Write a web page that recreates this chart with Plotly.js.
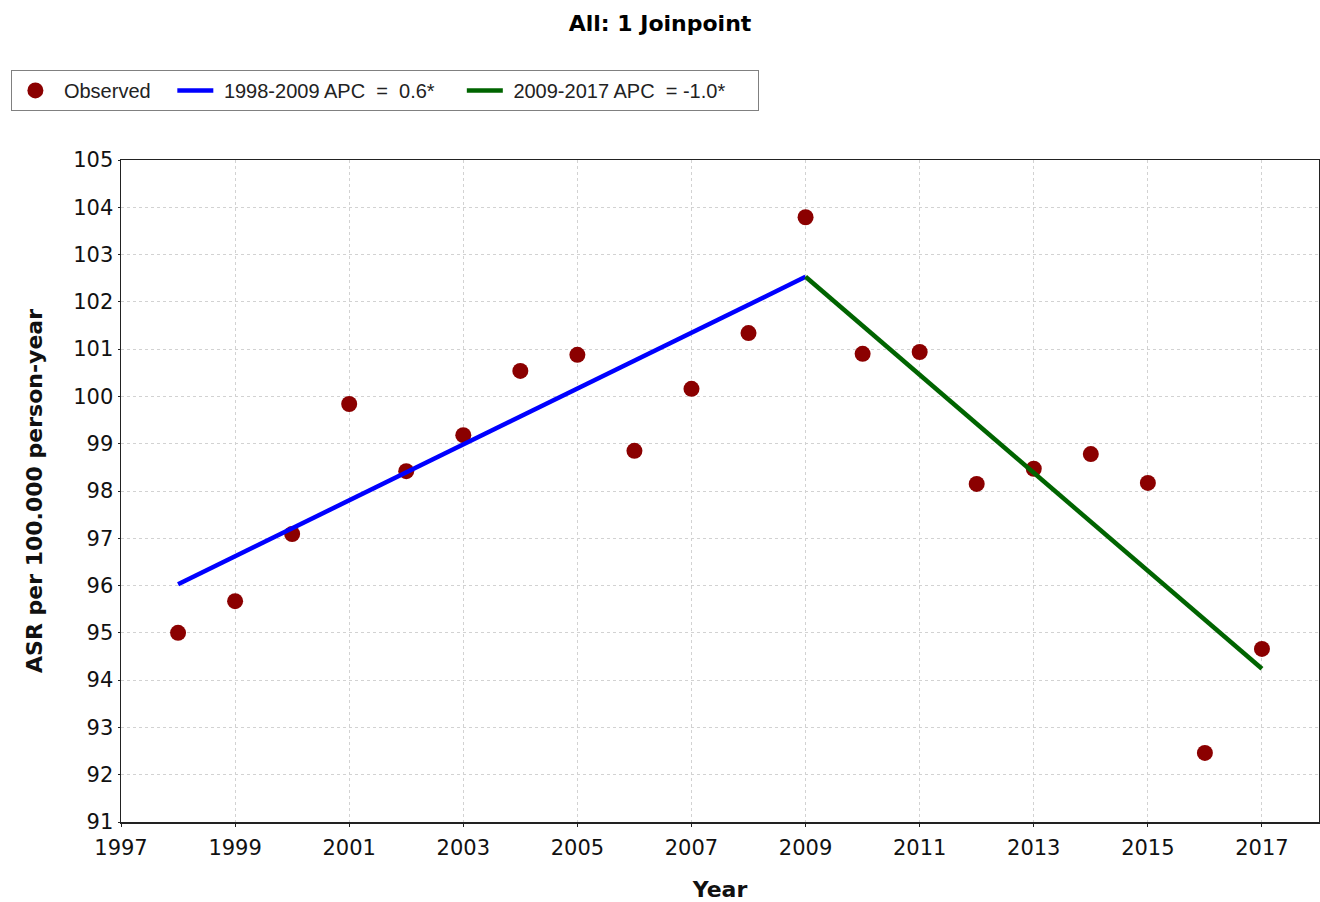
<!DOCTYPE html>
<html>
<head>
<meta charset="utf-8">
<script src="https://cdn.plot.ly/plotly-3.0.1.min.js"></script>
<style>html,body{margin:0;padding:0;background:#fff;}#chart{width:1320px;height:902px;}</style>
</head>
<body>
<div id="chart"></div>
<script>
const years = [1998,1999,2000,2001,2002,2003,2004,2005,2006,2007,2008,2009,2010,2011,2012,2013,2014,2015,2016,2017];
const observed = [95.00,95.67,97.09,99.84,98.42,99.18,100.54,100.88,98.85,100.16,101.34,103.79,100.90,100.94,98.15,98.47,98.78,98.17,92.46,94.66];
const seg1Years = [1998, 2009];
const seg1Fit = [96.03, 102.53];
const seg2Years = [2009, 2017];
const seg2Fit = [102.53, 94.24];
const names = ['Observed', '1998-2009 APC\u00a0\u00a0=\u00a0\u00a00.6*', '2009-2017 APC\u00a0\u00a0= -1.0*'];
const titleText = '<b>All: 1 Joinpoint</b>';
const xTitle = '<b>Year</b>';
const yTitle = '<b>ASR per 100.000 person-year</b>';

const NB = '\u00a0';
function pad(s, lead, trail) { return NB.repeat(lead) + s + NB.repeat(trail); }

const traces = [
  {x: years, y: observed, type: 'scatter', mode: 'markers', name: pad(names[0], 1, 3),
   marker: {color: '#8B0000', size: 16}},
  {x: seg1Years, y: seg1Fit, type: 'scatter', mode: 'lines', name: pad(names[1], 1, 4),
   line: {color: '#0000FF', width: 4.5}},
  {x: seg2Years, y: seg2Fit, type: 'scatter', mode: 'lines', name: pad(names[2], 1, 5),
   line: {color: '#006400', width: 4.5}}
];

const fam = 'DejaVu Sans, Verdana, sans-serif';
const axisFont = {family: fam, size: 21, color: '#111'};
const layout = {
  width: 1320, height: 902,
  paper_bgcolor: '#fff', plot_bgcolor: '#fff',
  margin: {l: 121, r: 1, t: 160, b: 80, pad: 0},
  title: {text: titleText, x: 0.5, xref: 'container', xanchor: 'center',
          y: 1 - 23/902, yref: 'container', yanchor: 'middle',
          font: {family: fam, size: 22, color: '#000'}},
  showlegend: true,
  legend: {orientation: 'h', x: -0.0915, xanchor: 'left', y: 1.136, yanchor: 'top',
           bordercolor: '#808080', borderwidth: 1, bgcolor: '#fff',
           font: {family: 'Liberation Sans, Arial, sans-serif', size: 20, color: '#222'},
           itemwidth: 36, traceorder: 'normal'},
  xaxis: {range: [1997, 2018], tick0: 1997, dtick: 2, tickmode: 'linear',
          showgrid: true, gridcolor: '#d2d2d2', griddash: 'dot', gridwidth: 1,
          zeroline: false, showline: true, linecolor: '#222', linewidth: 1.5, mirror: true,
          ticks: 'outside', ticklen: 3, tickcolor: '#222', ticklabelstandoff: 3,
          tickfont: axisFont,
          title: {text: xTitle, font: {family: fam, size: 22, color: '#111'}, standoff: 25}},
  yaxis: {range: [91, 105], tick0: 91, dtick: 1, tickmode: 'linear',
          showgrid: true, gridcolor: '#d2d2d2', griddash: 'dot', gridwidth: 1,
          zeroline: false, showline: true, linecolor: '#222', linewidth: 1.5, mirror: true,
          ticks: 'outside', ticklen: 2, tickcolor: '#222', ticklabelstandoff: 0,
          tickfont: axisFont,
          title: {text: yTitle, font: {family: fam, size: 22, color: '#111'}, standoff: 24}}
};

Plotly.newPlot('chart', traces, layout, {displayModeBar: false, staticPlot: true});
</script>
</body>
</html>
